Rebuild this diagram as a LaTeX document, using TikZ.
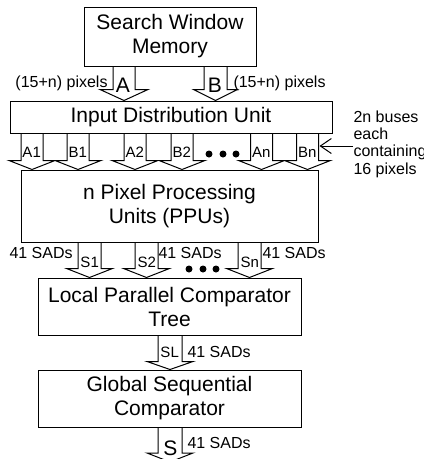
\documentclass[tikz,border=0pt]{standalone}
\usepackage{fontspec}
\setmainfont{Liberation Sans}
\usetikzlibrary{calc,arrows.meta}

\newcommand{\bigtxt}{\fontsize{21}{24}\selectfont}
\newcommand{\smalltxt}{\fontsize{16}{17.3}\selectfont}
\newcommand{\bustxt}{\fontsize{15}{17}\selectfont}

% hollow bus arrow: x centre, from node, to point, shaft half width, head half width, head length
\newcommand{\busarrow}[6]{%
  \coordinate (ba top) at (#1,0 |- #2.south);
  \coordinate (ba tip) at (#1,0 |- #3);
  \draw ($(ba top)+(-#4,0)$) -- ($(ba tip)+(-#4,-#6)$) -- ($(ba tip)+(-#5,-#6)$) -- (ba tip)
     -- ($(ba tip)+(#5,-#6)$) -- ($(ba tip)+(#4,-#6)$) -- ($(ba top)+(#4,0)$);}

\begin{document}
\begin{tikzpicture}[x=1pt, y=-1pt, line width=1pt,
    box/.style={draw, align=center, font=\bigtxt, inner sep=0pt},
    sink/.style={execute at begin node={\rule{0pt}{#1}}},
    lbl/.style={inner sep=0pt, anchor=base west, font=\smalltxt},
    buslbl/.style={inner sep=0pt, anchor=base west, font=\bustxt}]
    \useasboundingbox (0,0) rectangle (424,459);

    \node[box, sink=18.5pt, minimum width=172pt, minimum height=59pt] (swm) at (170,36.5) {Search Window\\Memory};
    \node[box, minimum width=322pt, minimum height=32pt] (idu) at (171,117) {Input Distribution Unit};
    \node[box, sink=22pt, minimum width=297pt, minimum height=72pt] (ppu) at (169.5,206) {n Pixel Processing\\Units (PPUs)};
    \node[box, sink=21.5pt, minimum width=263pt, minimum height=57pt] (lpct) at (169.5,306.5) {Local Parallel Comparator\\Tree};
    \node[box, sink=21.5pt, minimum width=263pt, minimum height=57pt] (gsc) at (169.5,398.5) {Global Sequential\\Comparator};
    \coordinate (out) at (170,462);

    % memory -> distribution unit
    \busarrow{124}{swm}{idu.north}{11}{24}{11}
    \busarrow{215.5}{swm}{idu.north}{11.5}{22}{11}
    \node[font=\bigtxt, inner sep=0pt, anchor=base] (a) at (123,92) {A};
    \node[font=\bigtxt, inner sep=0pt, anchor=base] (b) at (215,92) {B};
    \node[lbl] (pixa) at (15,87) {(15+n) pixels};
    \node[lbl] (pixb) at (233,87) {(15+n) pixels};

    % distribution unit -> PPUs
    \foreach \x/\t in {32/A1, 78/B1, 135/A2, 182/B2, 261.5/An, 307.5/Bn} {
        \busarrow{\x}{idu}{ppu.north}{11}{23}{9}
        \node[buslbl] (bus-\t) at (\x-10,157) {\t};
    }
    \foreach \x in {209,223,236}
        \fill (\x,154) circle (3.5pt);
    \coordinate (bn) at (319.5,146);
    \node[lbl, align=left, anchor=north west] (note) at (353,110.3) {2n buses\\each\\containing\\16 pixels};
    \draw[-{Straight Barb[length=11pt,width=15pt]}] (note.west |- bn) -- (bn);

    % PPUs -> local tree
    \foreach \x/\t in {89.5/S1, 146.5/S2, 249.5/Sn} {
        \busarrow{\x}{ppu}{lpct.north}{11.5}{23}{9}
        \node[buslbl] (sum-\t) at (\x-9.5,267) {\t};
    }
    \foreach \x in {189,203,216}
        \fill (\x,269) circle (3.5pt);
    \node[lbl] (sad1) at (9,258) {41 SADs};
    \node[lbl] (sad2) at (158,258) {41 SADs};
    \node[lbl] (sad3) at (262,258) {41 SADs};

    % local tree -> global comparator -> out
    \busarrow{170}{lpct}{gsc.north}{12}{23}{8}
    \node[buslbl] (sl) at (160,357) {SL};
    \node[lbl] (sad4) at (187,357) {41 SADs};
    \busarrow{170}{gsc}{out}{12}{23}{9}
    \node[font=\bigtxt, inner sep=0pt, anchor=base] (s) at (170.5,455) {S};
    \node[lbl] (sad5) at (187,448) {41 SADs};
\end{tikzpicture}
\end{document}
